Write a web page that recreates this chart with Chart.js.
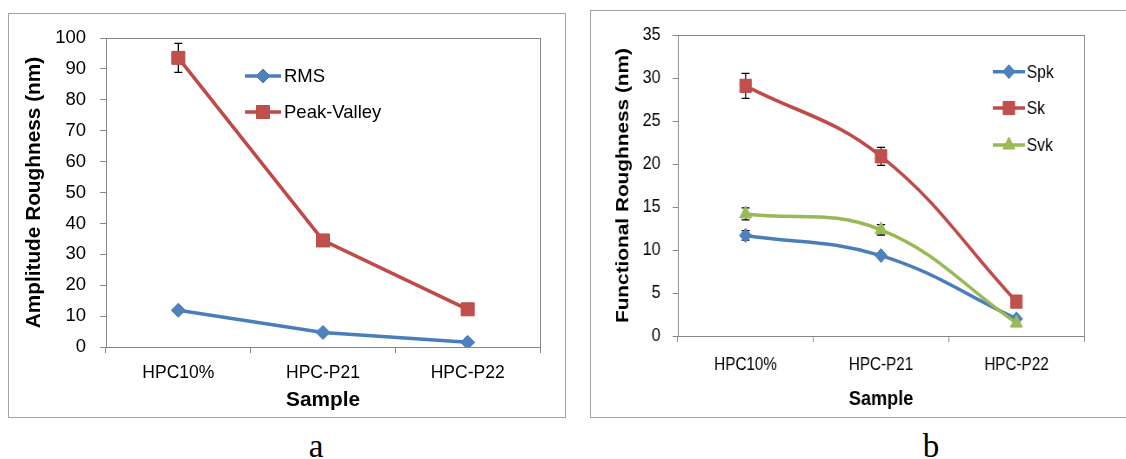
<!DOCTYPE html>
<html>
<head>
<meta charset="utf-8">
<script src="https://cdn.jsdelivr.net/npm/chart.js@4/dist/chart.umd.min.js"></script>
<style>
  html, body { margin: 0; padding: 0; background: #fff; }
  body { width: 1126px; height: 459px; position: relative; overflow: hidden; }
  .frame { position: absolute; border: 1px solid #a3a3a3; box-sizing: border-box; }
  #frameA { left: 8px; top: 13px; width: 558px; height: 405px; }
  #frameB { left: 590px; top: 10px; width: 600px; height: 408px; }
  #canvasA { position: absolute; left: 8px; top: 13px; }
  #wrapB { position: absolute; left: 590px; top: 10px; width: 621px; height: 407px;
           transform: scaleX(0.87); transform-origin: 0 0; }
  #canvasB { position: absolute; left: 0; top: 0; }
  .sub { position: absolute; width: 40px; text-align: center; font-family: "Liberation Serif", serif;
         font-size: 33px; line-height: 33px; color: #000; top: 430px; }
</style>
</head>
<body>
<div class="frame" id="frameA"></div>
<div class="frame" id="frameB"></div>
<canvas id="canvasA" width="557" height="404"></canvas>
<div id="wrapB"><canvas id="canvasB" width="621" height="407"></canvas></div>
<div class="sub" style="left:296px">a</div>
<div class="sub" style="left:911px">b</div>
<script>
// ---------- data ----------
const categories = ['HPC10%', 'HPC-P21', 'HPC-P22'];

const rmsValues        = [11.9, 4.7, 1.5];
const rmsErrors        = [0, 0, 0];
const peakValleyValues = [93.6, 34.5, 12.2];
const peakValleyErrors = [4.7, 0, 0];

const spkValues = [11.7, 9.35, 2.0];
const spkErrors = [0.55, 0, 0];
const skValues  = [29.1, 20.9, 4.0];
const skErrors  = [1.45, 1.05, 0];
const svkValues = [14.2, 12.35, 1.5];
const svkErrors = [0.7, 0.6, 0];

const amplitudeTicks  = [0, 10, 20, 30, 40, 50, 60, 70, 80, 90, 100];
const functionalTicks = [0, 5, 10, 15, 20, 25, 30, 35];

// ---------- plugins ----------
const errorBarPlugin = {
  id: 'errorBars',
  beforeDatasetsDraw(chart, args, opts) {
    const ctx = chart.ctx, ys = chart.scales.y;
    ctx.save();
    ctx.strokeStyle = '#000';
    ctx.lineWidth = opts.lineWidth;
    chart.data.datasets.forEach((ds, di) => {
      const errs = ds.errors;
      if (!errs) return;
      chart.getDatasetMeta(di).data.forEach((pt, i) => {
        const e = errs[i];
        if (!e) return;
        const v = ds.data[i];
        const yt = ys.getPixelForValue(v + e), yb = ys.getPixelForValue(v - e);
        const x = pt.x, c = opts.cap;
        ctx.beginPath();
        ctx.moveTo(x, yt); ctx.lineTo(x, yb);
        ctx.moveTo(x - c, yt); ctx.lineTo(x + c, yt);
        ctx.moveTo(x - c, yb); ctx.lineTo(x + c, yb);
        ctx.stroke();
      });
    });
    ctx.restore();
  }
};

const framePlugin = {
  id: 'plotFrame',
  beforeDatasetsDraw(chart, args, opts) {
    const {left, top, right, bottom} = chart.chartArea;
    const ctx = chart.ctx;
    ctx.save();
    ctx.strokeStyle = opts.color;
    ctx.lineWidth = 1;
    ctx.strokeRect(Math.round(left) + 0.5, Math.round(top) + 0.5,
                   Math.round(right) - Math.round(left), Math.round(bottom) - Math.round(top));
    ctx.restore();
  }
};

const lineLegendPlugin = {
  id: 'lineLegend',
  afterDraw(chart, args, o) {
    const ctx = chart.ctx;
    ctx.save();
    chart.data.datasets.forEach((ds, i) => {
      const y = o.ys[i];
      ctx.strokeStyle = ds.borderColor;
      ctx.lineWidth = ds.borderWidth;
      ctx.beginPath();
      ctx.moveTo(o.x0, y); ctx.lineTo(o.x1, y);
      ctx.stroke();
      ctx.fillStyle = ds.pointBackgroundColor;
      ctx.strokeStyle = ds.pointBorderColor;
      ctx.lineWidth = 1;
      Chart.helpers.drawPoint(ctx, {pointStyle: ds.pointStyle, rotation: 0,
        radius: ds.pointRadius, borderWidth: 1}, (o.x0 + o.x1) / 2, y);
      ctx.fillStyle = '#000';
      ctx.font = o.font;
      ctx.textAlign = 'left';
      ctx.textBaseline = 'middle';
      ctx.fillText(ds.label, o.textX, y + 1);
    });
    ctx.restore();
  }
};

Chart.defaults.font.family = '"Liberation Sans", Arial, sans-serif';
Chart.defaults.color = '#000';

const AXIS = '#868686';
const BLUE_L = '#4A7EBB', BLUE_M = '#4F81BD';
const RED_L = '#BE4B48', RED_M = '#C0504D';
const GREEN_L = '#98B954', GREEN_M = '#9BBB59';

function xScale(height, pad, titlePadBottom) {
  return {
    type: 'category',
    offset: true,
    grid: { offset: true, drawOnChartArea: false, drawTicks: true, tickLength: 6, color: AXIS },
    border: { color: AXIS, width: 1 },
    ticks: { font: { size: 17.5 }, color: '#000', padding: pad, maxRotation: 0, autoSkip: false },
    title: { display: true, text: 'Sample', color: '#000',
             font: { size: 20.8, weight: 'bold' }, padding: { top: 0, bottom: titlePadBottom } },
    afterFit(s) { s.height = height; }
  };
}

function yScale(tickList, title, width, titlePadTop) {
  return {
    type: 'linear',
    min: tickList[0],
    max: tickList[tickList.length - 1],
    afterBuildTicks(s) { s.ticks = tickList.map(v => ({ value: v })); },
    grid: { drawOnChartArea: false, drawTicks: true, tickLength: 6, color: AXIS },
    border: { color: AXIS, width: 1 },
    ticks: { font: { size: 18.5 }, color: '#000', padding: 14 },
    title: { display: true, text: title, color: '#000',
             font: { size: 20.8, weight: 'bold' }, padding: { top: titlePadTop, bottom: 0 } },
    afterFit(s) { s.width = width; }
  };
}

// ---------- chart a ----------
new Chart(document.getElementById('canvasA'), {
  type: 'line',
  data: {
    labels: categories,
    datasets: [
      { label: 'RMS', data: rmsValues, errors: rmsErrors,
        borderColor: BLUE_L, backgroundColor: BLUE_M, borderWidth: 3.5,
        pointStyle: 'rectRot', pointRadius: 7, pointBorderWidth: 1,
        pointBackgroundColor: BLUE_M, pointBorderColor: BLUE_L, tension: 0, order: 2 },
      { label: 'Peak-Valley', data: peakValleyValues, errors: peakValleyErrors,
        borderColor: RED_L, backgroundColor: RED_M, borderWidth: 3.5,
        pointStyle: 'rect', pointRadius: 9.2, pointBorderWidth: 1,
        pointBackgroundColor: RED_M, pointBorderColor: RED_L, tension: 0, order: 1 }
    ]
  },
  options: {
    responsive: false, animation: false, devicePixelRatio: 1,
    layout: { padding: { left: 0, top: 24, right: 25, bottom: 0 } },
    plugins: {
      legend: { display: false }, tooltip: { enabled: false },
      errorBars: { cap: 4, lineWidth: 1.3 },
      plotFrame: { color: AXIS },
      lineLegend: { x0: 237, x1: 273, textX: 276, ys: [63, 99], font: '18.5px "Liberation Sans", Arial, sans-serif' }
    },
    scales: {
      x: xScale(70, 9.5, 4.5),
      y: yScale(amplitudeTicks, 'Amplitude Roughness (nm)', 98, 13.5)
    }
  },
  plugins: [errorBarPlugin, framePlugin, lineLegendPlugin]
});

// ---------- chart b ----------
new Chart(document.getElementById('canvasB'), {
  type: 'line',
  data: {
    labels: categories,
    datasets: [
      { label: 'Spk', data: spkValues, errors: spkErrors,
        borderColor: BLUE_L, backgroundColor: BLUE_M, borderWidth: 3.5,
        pointStyle: 'rectRot', pointRadius: 7, pointBorderWidth: 1,
        pointBackgroundColor: BLUE_M, pointBorderColor: BLUE_L, tension: 0.4, order: 3 },
      { label: 'Sk', data: skValues, errors: skErrors,
        borderColor: RED_L, backgroundColor: RED_M, borderWidth: 3.5,
        pointStyle: 'rect', pointRadius: 9.3, pointBorderWidth: 1,
        pointBackgroundColor: RED_M, pointBorderColor: RED_L, tension: 0.4, order: 2 },
      { label: 'Svk', data: svkValues, errors: svkErrors,
        borderColor: GREEN_L, backgroundColor: GREEN_M, borderWidth: 3.5,
        pointStyle: 'triangle', pointRadius: 8, pointBorderWidth: 1,
        pointBackgroundColor: GREEN_M, pointBorderColor: GREEN_L, tension: 0.4, order: 1 }
    ]
  },
  options: {
    responsive: false, animation: false, devicePixelRatio: 1,
    layout: { padding: { left: 0, top: 19, right: 53, bottom: 0 } },
    plugins: {
      legend: { display: false }, tooltip: { enabled: false },
      errorBars: { cap: 4.6, lineWidth: 1.3 },
      plotFrame: { color: AXIS },
      lineLegend: { x0: 463, x1: 500, textX: 502, ys: [61.7, 98, 135], font: '18px "Liberation Sans", Arial, sans-serif' }
    },
    scales: {
      x: xScale(81, 12.5, 5.5),
      y: yScale(functionalTicks, 'Functional Roughness (nm)', 101, 26)
    }
  },
  plugins: [errorBarPlugin, framePlugin, lineLegendPlugin]
});
</script>
</body>
</html>
